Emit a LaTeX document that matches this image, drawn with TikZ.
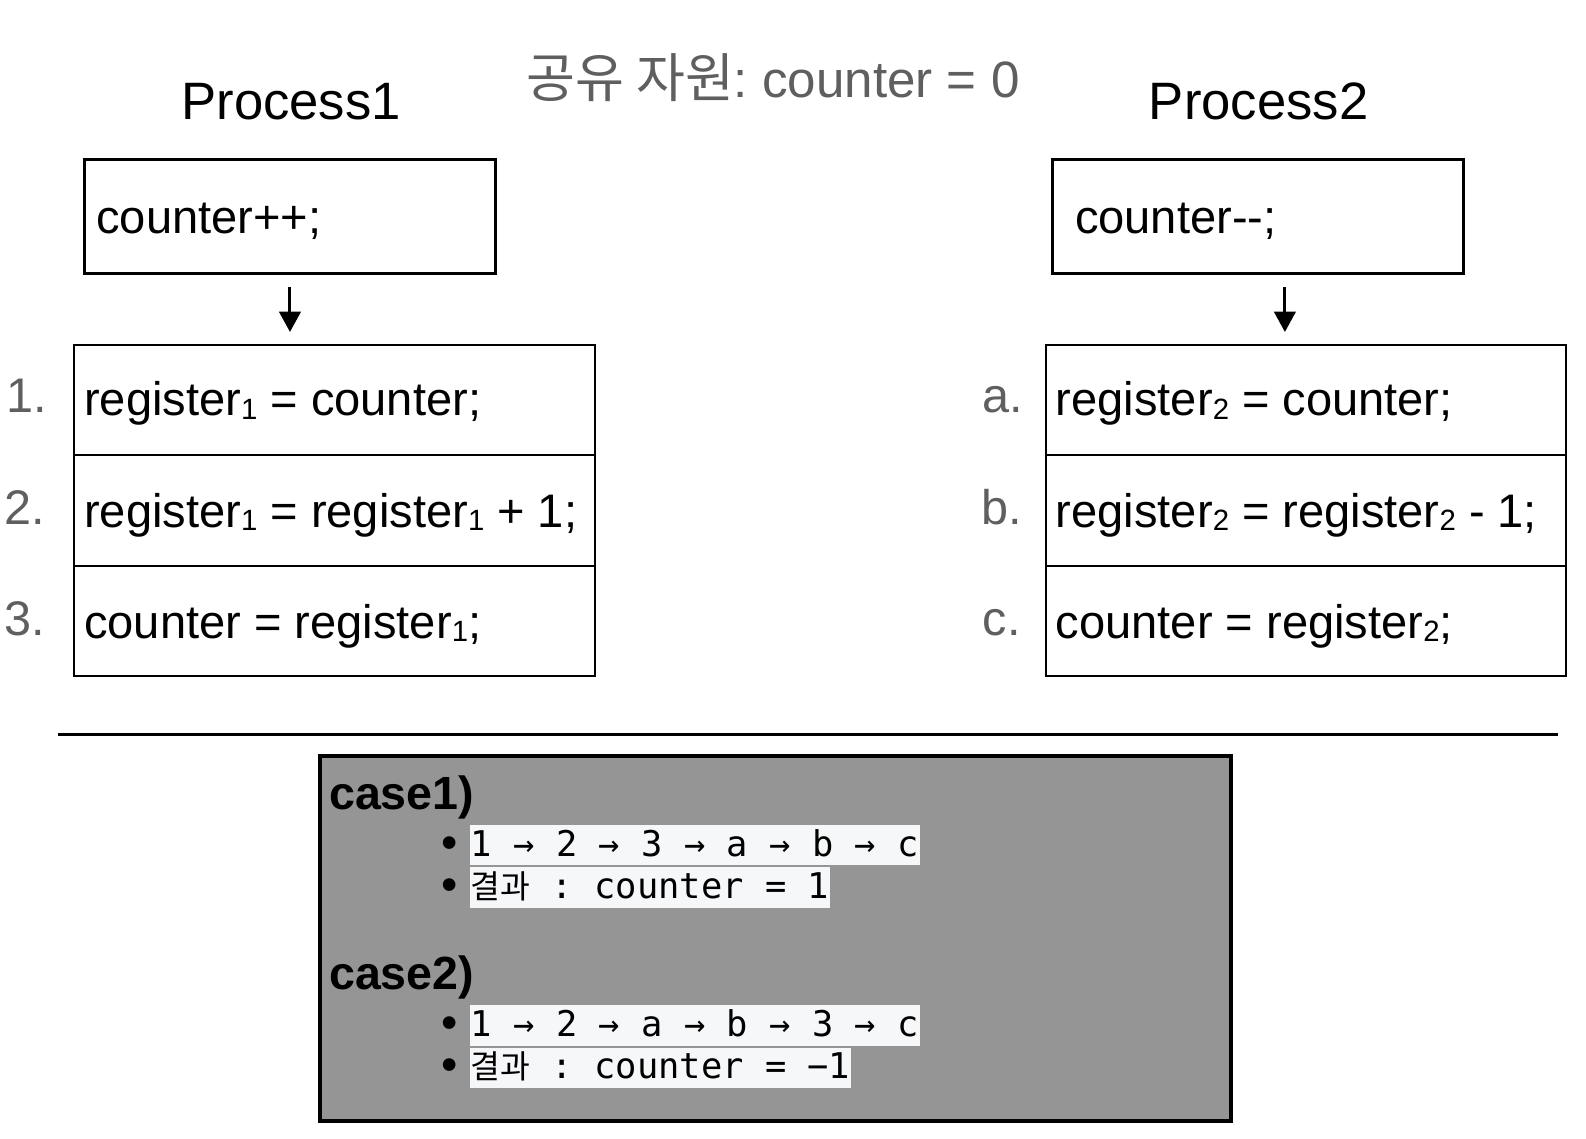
\documentclass[tikz,border=0pt]{standalone}
\usepackage{fontspec}
\setmainfont{Liberation Sans}
\newfontfamily\krfont{Noto Sans CJK KR}
\newfontfamily\monofont{DejaVu Sans Mono}
\usetikzlibrary{arrows.meta}
\definecolor{lblgray}{HTML}{5F5F5F}
\definecolor{boxgray}{HTML}{959595}
\definecolor{codebg}{HTML}{F6F7F8}
\newcommand{\fs}[1]{\fontsize{#1}{#1}\selectfont}
\newcommand{\regsub}[1]{\raisebox{-3pt}{\fs{29}#1}}
\frenchspacing
\begin{document}
\begin{tikzpicture}[x=1pt,y=-1pt,
  txt/.style={inner sep=0pt, anchor=base west},
  title/.style={txt, font=\fs{52}},
  code/.style={txt, font=\fs{46.5}},
  lbl/.style={txt, font=\fs{48}, text=lblgray},
  topbox/.style={draw, line width=3pt, anchor=north west, inner sep=0pt, minimum width=406pt, minimum height=113pt},
  cell/.style={draw, line width=2pt, anchor=north west, inner sep=0pt, minimum width=514pt, minimum height=109pt},
  arr/.style={line width=3pt, -{Triangle[length=20pt,width=21pt]}, shorten <=12pt, shorten >=12pt},
  casehd/.style={txt, font=\bfseries\fs{46}},
  cline/.style={txt, font=\monofont\fs{35}, fill=codebg, text height=31pt, text depth=9pt, inner xsep=1pt},
  bul/.style={inner sep=0pt, anchor=base east, font=\fs{46}},
]
\useasboundingbox (0,0) rectangle (1567,1124.4);
\fill[white] (0,0) rectangle (1567,1124.4);

% titles
\node[title] (p1) at (179,118) {Process1};
\node[title] (p2) at (1135,118) {Process2};
\node[txt, font=\fs{50.5}, text=lblgray] (shared) at (520,96) {{\krfont\fs{52.5}공유 자원}: counter = 0};

% top boxes
\node[topbox] (b1) at (82,156) {};
\node[topbox] (b2) at (1038,156) {};
\node[code] (b1t) at (95,231) {counter++;};
\node[code] (b2t) at (1062,231) {counter-{}-;};

% left table
\node[cell] (l1) at (72.5,340) {};
\node[cell] (l2) at (72.5,449) {};
\node[cell] (l3) at (72.5,558) {};
\node[code] (l1t) at (83,411) {register\regsub{1} = counter;};
\node[code] (l2t) at (83,521) {register\regsub{1} = register\regsub{1} + 1;};
\node[code] (l3t) at (83,631) {counter = register\regsub{1};};
\node[lbl] (n1) at (6,408) {1.};
\node[lbl] (n2) at (4,518) {2.};
\node[lbl] (n3) at (4,628) {3.};

% right table
\node[cell] (r1) at (1032.5,340) {};
\node[cell] (r2) at (1032.5,449) {};
\node[cell] (r3) at (1032.5,558) {};
\node[code] (r1t) at (1043,411) {register\regsub{2} = counter;};
\node[code] (r2t) at (1043,521) {register\regsub{2} = register\regsub{2} - 1;};
\node[code] (r3t) at (1043,631) {counter = register\regsub{2};};
\node[lbl] (na) at (971,408) {a.};
\node[lbl] (nb) at (970,518) {b.};
\node[lbl] (nc) at (971,628) {c.};

% arrows
\draw[arr] (b1.south) -- (b1.south |- l1.north);
\draw[arr] ([xshift=27pt]b2.south) -- ([xshift=27pt]b2.south |- r1.north);

% separator
\coordinate (hl) at (57,726);
\coordinate (hr) at (1539,726);
\draw[line width=3pt] (hl) -- (hr);

% cases box
\node[draw, line width=4pt, fill=boxgray, anchor=north west, inner sep=0pt, minimum width=900pt, minimum height=361pt] (cb) at (314.5,744.5) {};
\node[casehd] (c1) at (325,800) {case1)};
\node[bul] (bu1) at (453,848) {•};
\node[cline] (c1a) at (464,846) {1 → 2 → 3 → a → b → c};
\node[bul] (bu2) at (453,890) {•};
\node[cline] (c1b) at (464,888) {{\krfont\fs{32}결과} : counter = 1};
\node[casehd] (c2) at (325,978) {case2)};
\node[bul] (bu3) at (453,1026) {•};
\node[cline] (c2a) at (464,1024) {1 → 2 → a → b → 3 → c};
\node[bul] (bu4) at (453,1068) {•};
\node[cline] (c2b) at (464,1066) {{\krfont\fs{32}결과} : counter = −1};
\end{tikzpicture}
\end{document}
